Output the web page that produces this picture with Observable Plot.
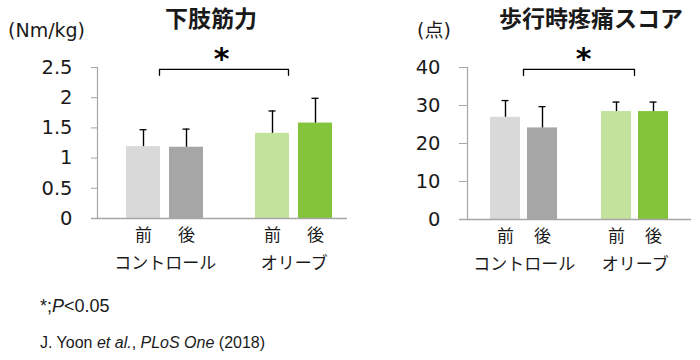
<!DOCTYPE html>
<html>
<head>
<meta charset="utf-8">
<script src="https://cdn.jsdelivr.net/npm/d3@7"></script>
<script src="https://cdn.jsdelivr.net/npm/@observablehq/plot@0.6"></script>
<style>
  html, body { margin: 0; padding: 0; background: #fff; }
  #root { position: relative; width: 700px; height: 360px; overflow: hidden; }
  .abs { position: absolute; white-space: nowrap; line-height: 1; color: #1a1a1a; }
  .title { font-family: "Noto Sans CJK JP", sans-serif; font-weight: bold; font-size: 23px; transform: translate(-50%, -50%); }
  .unit { font-family: "DejaVu Sans", "Noto Sans CJK JP", sans-serif; font-size: 19px; transform: translate(0, -50%); }
  .note { font-family: "Liberation Sans", Arial, sans-serif; }
  svg { position: absolute; top: 0; }
</style>
</head>
<body>
<div id="root"></div>
<script>
// ---- data ----
const groups = ["コントロール", "オリーブ"];
const phases = ["前", "後"];
const strengthMean = [1.19, 1.18, 1.41, 1.58];
const strengthSD = [0.28, 0.30, 0.37, 0.41];
const painMean = [26.9, 24.1, 28.4, 28.4];
const painSD = [4.4, 5.6, 2.5, 2.5];
const strengthTicks = [0, 0.5, 1, 1.5, 2, 2.5];
const painTicks = [0, 10, 20, 30, 40];
const titles = ["下肢筋力", "歩行時疼痛スコア"];
const units = ["(Nm/kg)", "(点)"];
const sigLabel = "*";

// ---- styles ----
const palette = ["#d9d9d9", "#a6a6a6", "#c3e29b", "#84c43a"];
const axisGray = "#a6a6a6";
const textColor = "#1a1a1a";
const cjk = "'Noto Sans CJK JP', sans-serif";

function buildRows(means, sds) {
  const rows = [];
  groups.forEach((g, gi) => phases.forEach((p, pi) => {
    const i = gi * phases.length + pi;
    rows.push({group: g, phase: p, key: g + "|" + p, mean: means[i], sd: sds[i]});
  }));
  return rows;
}
const keyDomain = [groups[0] + "|" + phases[0], groups[0] + "|" + phases[1], "gap",
                   groups[1] + "|" + phases[0], groups[1] + "|" + phases[1]];

function panel(cfg) {
  const rows = buildRows(cfg.means, cfg.sds);
  const groupRows = groups.map(g => ({group: g, key: g + "|" + phases[0]}));
  const bracket = [
    {key: keyDomain[0], y: cfg.brLo}, {key: keyDomain[0], y: cfg.brHi},
    {key: keyDomain[3], y: cfg.brHi}, {key: keyDomain[3], y: cfg.brLo}
  ];
  return Plot.plot({
    width: 350,
    height: 285,
    marginTop: 67,
    marginBottom: cfg.mb,
    marginLeft: cfg.ml,
    marginRight: cfg.mr,
    style: {fontFamily: "'DejaVu Sans', sans-serif", fontSize: "19.5px", color: textColor, background: "transparent"},
    x: {domain: keyDomain, range: cfg.xr, paddingInner: cfg.pi, paddingOuter: 0, axis: null},
    y: {domain: [0, cfg.ticks[cfg.ticks.length - 1]], axis: null},
    color: {domain: rows.map(d => d.key), range: palette},
    marks: [
      Plot.barY(rows, {x: "key", y: "mean", fill: "key"}),
      Plot.ruleX(rows, {x: "key", y1: "mean", y2: d => d.mean + d.sd, stroke: "#000", strokeWidth: 1.4}),
      Plot.tickY(rows, {x: "key", y: d => d.mean + d.sd, stroke: "#000", strokeWidth: 1.3, insetLeft: cfg.capInset, insetRight: cfg.capInset}),
      Plot.ruleY([0], {stroke: axisGray, strokeWidth: 1.4, insetLeft: -cfg.tickSize}),
      Plot.frame({anchor: "left", stroke: axisGray, strokeWidth: 1.2}),
      Plot.axisY({ticks: cfg.ticks, tickFormat: d => `${d}`, tickSize: cfg.tickSize, tickPadding: 19, stroke: axisGray, fill: textColor}),
      Plot.text(rows, {x: "key", text: "phase", frameAnchor: "bottom", dy: 22, fontSize: 17, fontFamily: cjk, fill: textColor}),
      Plot.text(groupRows, {x: "key", text: "group", frameAnchor: "bottom", dy: 50, dx: cfg.groupDx, fontSize: 17, fontFamily: cjk, fill: textColor}),
      Plot.line(bracket, {x: "key", y: "y", dx: cfg.brDx, stroke: "#000", strokeWidth: 1.3, curve: "linear"}),
      Plot.text([{key: "gap"}], {x: "key", text: () => sigLabel, frameAnchor: "top", dy: -20, dx: cfg.starDx, fontSize: 30, fontWeight: "bold", fill: "#000"})
    ]
  });
}

const root = document.getElementById("root");

const left = panel({
  means: strengthMean, sds: strengthSD, ticks: strengthTicks,
  mb: 285 - 218, ml: 97, mr: 3, xr: [125, 333], pi: 0.22, capInset: 13.5,
  tickSize: 6, groupDx: 21.75, brLo: 2.37, brHi: 2.47, brDx: 16, starDx: -8
});
left.style.left = "0px";
root.appendChild(left);

const right = panel({
  means: painMean, sds: painSD, ticks: painTicks,
  mb: 285 - 219, ml: 117, mr: 9, xr: [139, 319], pi: 0.2, capInset: 11.5,
  tickSize: 8, groupDx: 18.75, brLo: 37.9, brHi: 39.5, brDx: 18, starDx: 4
});
right.style.left = "350px";
root.appendChild(right);

function addDiv(cls, text, x, y, extra) {
  const d = document.createElement("div");
  d.className = "abs " + cls;
  d.style.left = x + "px";
  d.style.top = y + "px";
  if (extra) Object.assign(d.style, extra);
  d.innerHTML = text;
  root.appendChild(d);
  return d;
}
addDiv("title", titles[0], 211, 17);
addDiv("title", titles[1], 591, 17);
addDiv("unit", units[0], 8, 30);
addDiv("unit", units[1], 417, 30);
addDiv("note", "*;<i>P</i>&lt;0.05", 40, 297, {fontSize: "18px"});
addDiv("note", "J. Yoon <i>et al.</i>, <i>PLoS One</i> (2018)", 40, 335, {fontSize: "16px"});
</script>
</body>
</html>
